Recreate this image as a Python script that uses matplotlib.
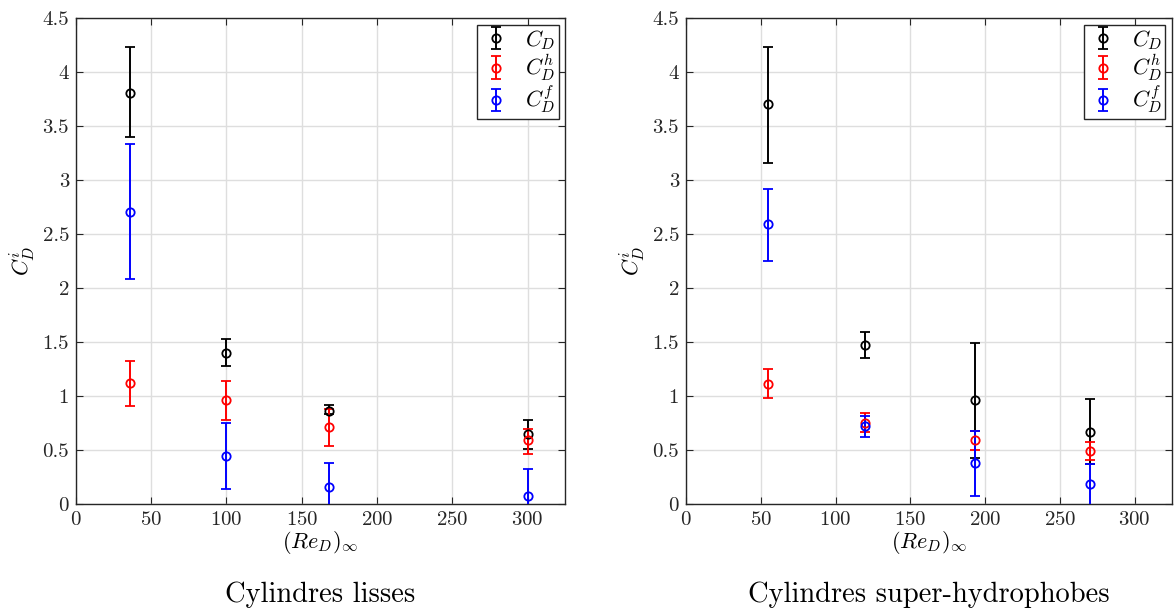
import numpy as np
import matplotlib
matplotlib.use("Agg")
import matplotlib.pyplot as plt

plt.rcParams['font.family'] = 'serif'
plt.rcParams['font.serif'] = ['cmr10', 'DejaVu Serif']
plt.rcParams['mathtext.fontset'] = 'cm'
plt.rcParams['axes.formatter.use_mathtext'] = True

# Cylindres lisses
re_lisse = [36, 100, 168, 300]
cd_lisse = [3.81, 1.40, 0.86, 0.65]
cd_lisse_lo = [3.40, 1.28, 0.83, 0.51]
cd_lisse_hi = [4.23, 1.53, 0.92, 0.78]
cdh_lisse = [1.12, 0.96, 0.71, 0.59]
cdh_lisse_lo = [0.91, 0.78, 0.54, 0.46]
cdh_lisse_hi = [1.32, 1.14, 0.88, 0.69]
cdf_lisse = [2.70, 0.44, 0.155, 0.07]
cdf_lisse_lo = [2.08, 0.14, -0.07, -0.18]
cdf_lisse_hi = [3.33, 0.75, 0.38, 0.32]

# Cylindres super-hydrophobes
re_sh = [55, 120, 193, 270]
cd_sh = [3.70, 1.47, 0.96, 0.67]
cd_sh_lo = [3.16, 1.35, 0.43, 0.37]
cd_sh_hi = [4.23, 1.59, 1.49, 0.97]
cdh_sh = [1.11, 0.75, 0.59, 0.49]
cdh_sh_lo = [0.98, 0.67, 0.50, 0.41]
cdh_sh_hi = [1.25, 0.84, 0.68, 0.57]
cdf_sh = [2.59, 0.725, 0.38, 0.185]
cdf_sh_lo = [2.25, 0.62, 0.07, -0.10]
cdf_sh_hi = [2.92, 0.815, 0.675, 0.37]

titles = ["Cylindres lisses", "Cylindres super-hydrophobes"]


def draw(ax, x, series, title):
    for (y, lo, hi), color, label in zip(series, ['black', 'red', 'blue'],
                                         [r'$C_D$', r'$C_D^h$', r'$C_D^f$']):
        y, lo, hi = np.array(y), np.array(lo), np.array(hi)
        ax.errorbar(x, y, yerr=[y - lo, hi - y], fmt='o', color=color,
                    markerfacecolor='none', markersize=6, markeredgewidth=1.3,
                    elinewidth=1.4, capsize=3.5, capthick=1.4, label=label,
                    zorder=3)
    ax.set_xlim(0, 325)
    ax.set_ylim(0, 4.5)
    ax.set_xticks(np.arange(0, 301, 50))
    ax.set_yticks(np.arange(0, 4.51, 0.5))
    ax.set_yticklabels(['0', '0.5', '1', '1.5', '2', '2.5', '3', '3.5', '4', '4.5'])
    ax.grid(True, color='#dedede', linewidth=1.0)
    ax.set_axisbelow(True)
    for s in ax.spines.values():
        s.set_color('#262626')
        s.set_linewidth(1.0)
    ax.tick_params(direction='in', top=True, right=True, labelsize=15,
                   colors='#262626', length=5, pad=5)
    ax.set_xlabel(r'$(Re_D)_\infty$', fontsize=16, labelpad=0)
    ax.set_ylabel(r'$C_D^i$', fontsize=16, labelpad=4)
    ax.text(0.5, -0.16, title, transform=ax.transAxes, ha='center', va='top',
            fontsize=20.5)
    leg = ax.legend(loc='upper right', fontsize=16, fancybox=False,
                    edgecolor='#262626', framealpha=1, borderpad=0.15,
                    handlelength=1.4, labelspacing=0.05, handletextpad=0.6,
                    borderaxespad=0.3)
    leg.get_frame().set_linewidth(1.0)


fig = plt.figure(figsize=(11.76, 6.12), dpi=100)
ax1 = fig.add_axes([0.0646, 0.1765, 0.416, 0.794])
ax2 = fig.add_axes([0.5833, 0.1765, 0.4133, 0.794])

draw(ax1, re_lisse, [(cd_lisse, cd_lisse_lo, cd_lisse_hi),
                     (cdh_lisse, cdh_lisse_lo, cdh_lisse_hi),
                     (cdf_lisse, cdf_lisse_lo, cdf_lisse_hi)], titles[0])
draw(ax2, re_sh, [(cd_sh, cd_sh_lo, cd_sh_hi),
                  (cdh_sh, cdh_sh_lo, cdh_sh_hi),
                  (cdf_sh, cdf_sh_lo, cdf_sh_hi)], titles[1])

fig.savefig("out.png", dpi=100)
